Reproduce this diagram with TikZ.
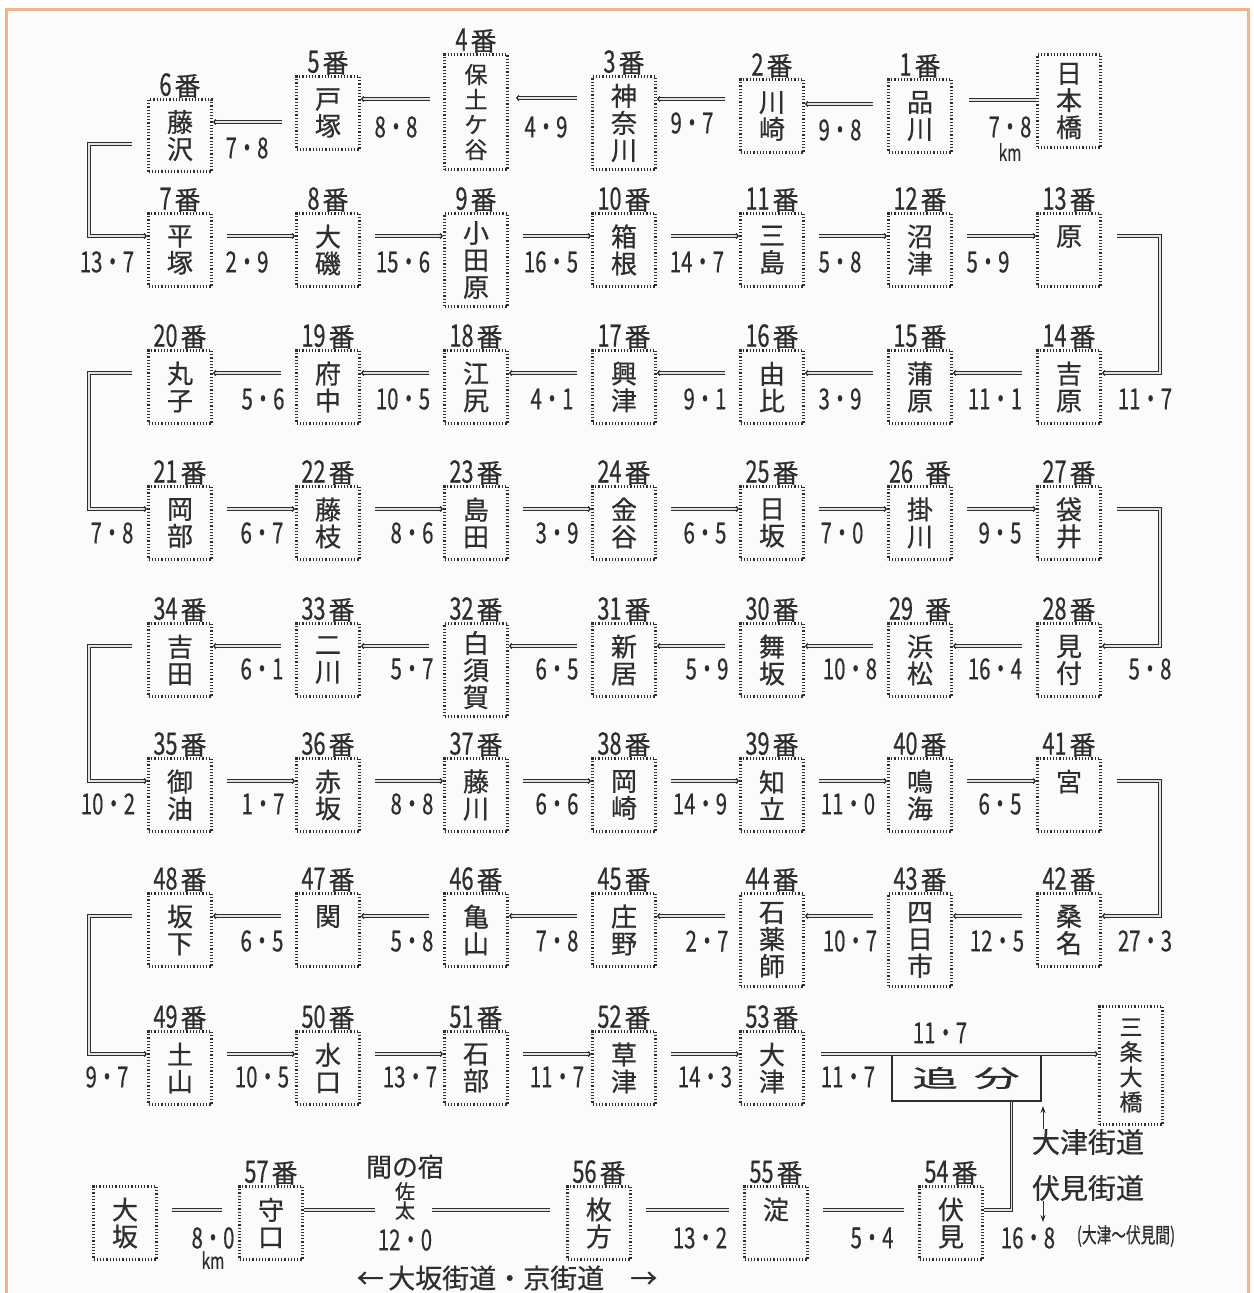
\documentclass[tikz,border=0pt]{standalone}
\usepackage{fontspec}
\usepackage{graphicx}
\usetikzlibrary{arrows.meta,positioning}
\newfontfamily\jp[FakeBold=0.6]{Noto Sans CJK JP}
\definecolor{frameorange}{RGB}{243,178,138}
\definecolor{paper}{RGB}{253,251,250}
\colorlet{ink}{black!82}
\newcommand{\narrow}[1]{\scalebox{0.7}[1]{#1}}
\newcommand{\stno}[1]{{\fontsize{31}{31}\selectfont\narrow{#1}}\hspace{3pt}番}
\newcommand{\stfont}{\jp\fontsize{26}{27}\selectfont}
\newcommand{\smallstfont}{\jp\fontsize{23}{25}\selectfont}
\tikzset{
  station/.style={draw=ink, line width=3pt, dash pattern=on 1.2pt off 2pt,
    minimum width=63pt, minimum height=73pt, inner sep=0pt, anchor=north,
    align=center, font=\stfont, text=ink, label distance=4pt},
  tall/.style={minimum height=93pt},
  stlabel/.style={font=\jp\fontsize{26}{26}\selectfont, text=ink, inner sep=0pt},
  dist/.style={font=\jp\fontsize{29}{29}\selectfont, text=ink, inner sep=0pt},
  note/.style={font=\jp\fontsize{27}{27}\selectfont, text=ink, inner sep=0pt},
  road/.style={draw=ink, line width=1.3pt, double=paper!80!gray, double distance=1.2pt},
  headed/.style={-{Straight Barb[length=2pt,width=5pt]}},
  pointer/.style={draw=ink, line width=0.9pt, -{Stealth[length=7pt,width=5pt]}}
}
\begin{document}
\begin{tikzpicture}[x=1pt, y=-1pt]
  \useasboundingbox (0,0) rectangle (1253,1293);
  \fill[white] (0,0) rectangle (1253,1293);
  % frame
  \draw[frameorange, line width=3pt, fill=paper] (6,9) rectangle (1248,1320);

  % row 1: Nihonbashi to Fujisawa
  \node[station, tall] (nihonbashi) at (1069,53) {日\\本\\橋};
  \node[station, label={[stlabel]above:\stno{1}}] (st1) at (920,78) {品\\川};
  \node[station, label={[stlabel]above:\stno{2}}] (st2) at (772,78) {川\\崎};
  \node[station, tall, label={[stlabel]above:\stno{3}}] (st3) at (624,75) {神\\奈\\川};
  \node[station, minimum height=115pt, font=\smallstfont, label={[stlabel]above:\stno{4}}] (st4) at (476,53) {保\\土\\ケ\\谷};
  \node[station, label={[stlabel]above:\stno{5}}] (st5) at (328,75) {戸\\塚};
  \node[station, minimum height=72pt, label={[stlabel]above:\stno{6}}] (st6) at (180,98) {藤\\沢};

  \draw[road] (nihonbashi.west |- 0,100) -- ([xshift=16pt]st1.east |- 0,100);
  \draw[road, headed] ([xshift=-14pt]st1.west |- 0,104) -- (st2.east |- 0,104);
  \draw[road, headed] ([xshift=-14pt]st2.west |- 0,99) -- (st3.east |- 0,99);
  \draw[road, headed] ([xshift=-14pt]st3.west |- 0,98) -- ([xshift=7pt]st4.east |- 0,98);
  \draw[road, headed] ([xshift=-13pt]st4.west |- 0,99) -- (st5.east |- 0,99);
  \draw[road, headed] ([xshift=-13pt]st5.west |- 0,122) -- (st6.east |- 0,122);

  \node[dist] (k1) at (1010,127) {\narrow{7・8}};
  \node[dist, font=\jp\fontsize{22}{22}\selectfont] (km1) at (1010,152) {\narrow{km}};
  \node[dist] (k2) at (840,130) {\narrow{9・8}};
  \node[dist] (k3) at (692,123) {\narrow{9・7}};
  \node[dist] (k4) at (546,127) {\narrow{4・9}};
  \node[dist] (k5) at (396,127) {\narrow{8・8}};
  \node[dist] (k6) at (247,148) {\narrow{7・8}};

  % row 2: Hiratsuka to Hara
  \node[station, label={[stlabel]above:\stno{7}}] (st7) at (180,212) {平\\塚};
  \node[station, label={[stlabel]above:\stno{8}}] (st8) at (328,212) {大\\磯};
  \node[station, tall, label={[stlabel]above:\stno{9}}] (st9) at (476,212) {小\\田\\原};
  \node[station, label={[stlabel]above:\stno{10}}] (st10) at (624,212) {箱\\根};
  \node[station, label={[stlabel]above:\stno{11}}] (st11) at (772,212) {三\\島};
  \node[station, label={[stlabel]above:\stno{12}}] (st12) at (920,212) {沼\\津};
  \node[station, label={[stlabel]above:\stno{13}}] (st13) at (1069,212) {原\\\phantom{原}};

  \draw[road, headed] ([xshift=14pt,yshift=-24pt]st7.north east) -- ([yshift=-24pt]st8.north west);
  \draw[road, headed] ([xshift=14pt,yshift=-24pt]st8.north east) -- ([yshift=-24pt]st9.north west);
  \draw[road, headed] ([xshift=14pt,yshift=-24pt]st9.north east) -- ([yshift=-24pt]st10.north west);
  \draw[road, headed] ([xshift=14pt,yshift=-24pt]st10.north east) -- ([yshift=-24pt]st11.north west);
  \draw[road, headed] ([xshift=14pt,yshift=-24pt]st11.north east) -- ([yshift=-24pt]st12.north west);
  \draw[road, headed] ([xshift=14pt,yshift=-24pt]st12.north east) -- ([yshift=-24pt]st13.north west);

  \node[dist] (k7) at (107,262) {\narrow{13・7}};
  \node[dist] (k8) at (247,262) {\narrow{2・9}};
  \node[dist] (k9) at (403,262) {\narrow{15・6}};
  \node[dist] (k10) at (551,262) {\narrow{16・5}};
  \node[dist] (k11) at (697,262) {\narrow{14・7}};
  \node[dist] (k12) at (840,262) {\narrow{5・8}};
  \node[dist] (k13) at (988,262) {\narrow{5・9}};

  % row 3: Yoshiwara to Mariko
  \node[station, label={[stlabel]above:\stno{14}}] (st14) at (1069,349) {吉\\原};
  \node[station, label={[stlabel]above:\stno{15}}] (st15) at (920,349) {蒲\\原};
  \node[station, label={[stlabel]above:\stno{16}}] (st16) at (772,349) {由\\比};
  \node[station, label={[stlabel]above:\stno{17}}] (st17) at (624,349) {興\\津};
  \node[station, label={[stlabel]above:\stno{18}}] (st18) at (476,349) {江\\尻};
  \node[station, label={[stlabel]above:\stno{19}}] (st19) at (328,349) {府\\中};
  \node[station, label={[stlabel]above:\stno{20}}] (st20) at (180,349) {丸\\子};

  \draw[road, headed] ([xshift=-14pt,yshift=-24pt]st14.north west) -- ([yshift=-24pt]st15.north east);
  \draw[road, headed] ([xshift=-14pt,yshift=-24pt]st15.north west) -- ([yshift=-24pt]st16.north east);
  \draw[road, headed] ([xshift=-14pt,yshift=-24pt]st16.north west) -- ([yshift=-24pt]st17.north east);
  \draw[road, headed] ([xshift=-14pt,yshift=-24pt]st17.north west) -- ([yshift=-24pt]st18.north east);
  \draw[road, headed] ([xshift=-14pt,yshift=-24pt]st18.north west) -- ([yshift=-24pt]st19.north east);
  \draw[road, headed] ([xshift=-14pt,yshift=-24pt]st19.north west) -- ([yshift=-24pt]st20.north east);

  \node[dist] (k14) at (1145,399) {\narrow{11・7}};
  \node[dist] (k15) at (995,399) {\narrow{11・1}};
  \node[dist] (k16) at (840,399) {\narrow{3・9}};
  \node[dist] (k17) at (705,399) {\narrow{9・1}};
  \node[dist] (k18) at (552,399) {\narrow{4・1}};
  \node[dist] (k19) at (403,399) {\narrow{10・5}};
  \node[dist] (k20) at (263,399) {\narrow{5・6}};

  % row 4: Okabe to Fukuroi
  \node[station, label={[stlabel]above:\stno{21}}] (st21) at (180,485) {岡\\部};
  \node[station, label={[stlabel]above:\stno{22}}] (st22) at (328,485) {藤\\枝};
  \node[station, label={[stlabel]above:\stno{23}}] (st23) at (476,485) {島\\田};
  \node[station, label={[stlabel]above:\stno{24}}] (st24) at (624,485) {金\\谷};
  \node[station, label={[stlabel]above:\stno{25}}] (st25) at (772,485) {日\\坂};
  \node[station, label={[stlabel]above:{{\fontsize{31}{31}\selectfont\narrow{26}}\hspace{12pt}番}}] (st26) at (920,485) {掛\\川};
  \node[station, label={[stlabel]above:\stno{27}}] (st27) at (1069,485) {袋\\井};

  \draw[road, headed] ([xshift=14pt,yshift=-24pt]st21.north east) -- ([yshift=-24pt]st22.north west);
  \draw[road, headed] ([xshift=14pt,yshift=-24pt]st22.north east) -- ([yshift=-24pt]st23.north west);
  \draw[road, headed] ([xshift=14pt,yshift=-24pt]st23.north east) -- ([yshift=-24pt]st24.north west);
  \draw[road, headed] ([xshift=14pt,yshift=-24pt]st24.north east) -- ([yshift=-24pt]st25.north west);
  \draw[road, headed] ([xshift=14pt,yshift=-24pt]st25.north east) -- ([yshift=-24pt]st26.north west);
  \draw[road, headed] ([xshift=14pt,yshift=-24pt]st26.north east) -- ([yshift=-24pt]st27.north west);

  \node[dist] (k21) at (112,533) {\narrow{7・8}};
  \node[dist] (k22) at (262,533) {\narrow{6・7}};
  \node[dist] (k23) at (412,533) {\narrow{8・6}};
  \node[dist] (k24) at (557,533) {\narrow{3・9}};
  \node[dist] (k25) at (705,533) {\narrow{6・5}};
  \node[dist] (k26) at (842,533) {\narrow{7・0}};
  \node[dist] (k27) at (1000,533) {\narrow{9・5}};

  % row 5: Mitsuke to Yoshida
  \node[station, label={[stlabel]above:\stno{28}}] (st28) at (1069,622) {見\\付};
  \node[station, label={[stlabel]above:{{\fontsize{31}{31}\selectfont\narrow{29}}\hspace{12pt}番}}] (st29) at (920,622) {浜\\松};
  \node[station, label={[stlabel]above:\stno{30}}] (st30) at (772,622) {舞\\坂};
  \node[station, label={[stlabel]above:\stno{31}}] (st31) at (624,622) {新\\居};
  \node[station, tall, label={[stlabel]above:\stno{32}}] (st32) at (476,622) {白\\須\\賀};
  \node[station, label={[stlabel]above:\stno{33}}] (st33) at (328,622) {二\\川};
  \node[station, label={[stlabel]above:\stno{34}}] (st34) at (180,622) {吉\\田};

  \draw[road, headed] ([xshift=-14pt,yshift=-24pt]st28.north west) -- ([yshift=-24pt]st29.north east);
  \draw[road, headed] ([xshift=-14pt,yshift=-24pt]st29.north west) -- ([yshift=-24pt]st30.north east);
  \draw[road, headed] ([xshift=-14pt,yshift=-24pt]st30.north west) -- ([yshift=-24pt]st31.north east);
  \draw[road, headed] ([xshift=-14pt,yshift=-24pt]st31.north west) -- ([yshift=-24pt]st32.north east);
  \draw[road, headed] ([xshift=-14pt,yshift=-24pt]st32.north west) -- ([yshift=-24pt]st33.north east);
  \draw[road, headed] ([xshift=-14pt,yshift=-24pt]st33.north west) -- ([yshift=-24pt]st34.north east);

  \node[dist] (k28) at (1150,669) {\narrow{5・8}};
  \node[dist] (k29) at (995,669) {\narrow{16・4}};
  \node[dist] (k30) at (850,669) {\narrow{10・8}};
  \node[dist] (k31) at (707,669) {\narrow{5・9}};
  \node[dist] (k32) at (557,669) {\narrow{6・5}};
  \node[dist] (k33) at (412,669) {\narrow{5・7}};
  \node[dist] (k34) at (262,669) {\narrow{6・1}};

  % row 6: Goyu to Miya
  \node[station, label={[stlabel]above:\stno{35}}] (st35) at (180,757) {御\\油};
  \node[station, label={[stlabel]above:\stno{36}}] (st36) at (328,757) {赤\\坂};
  \node[station, label={[stlabel]above:\stno{37}}] (st37) at (476,757) {藤\\川};
  \node[station, label={[stlabel]above:\stno{38}}] (st38) at (624,757) {岡\\崎};
  \node[station, label={[stlabel]above:\stno{39}}] (st39) at (772,757) {知\\立};
  \node[station, label={[stlabel]above:\stno{40}}] (st40) at (920,757) {鳴\\海};
  \node[station, label={[stlabel]above:\stno{41}}] (st41) at (1069,757) {宮\\\phantom{宮}};

  \draw[road, headed] ([xshift=14pt,yshift=-24pt]st35.north east) -- ([yshift=-24pt]st36.north west);
  \draw[road, headed] ([xshift=14pt,yshift=-24pt]st36.north east) -- ([yshift=-24pt]st37.north west);
  \draw[road, headed] ([xshift=14pt,yshift=-24pt]st37.north east) -- ([yshift=-24pt]st38.north west);
  \draw[road, headed] ([xshift=14pt,yshift=-24pt]st38.north east) -- ([yshift=-24pt]st39.north west);
  \draw[road, headed] ([xshift=14pt,yshift=-24pt]st39.north east) -- ([yshift=-24pt]st40.north west);
  \draw[road, headed] ([xshift=14pt,yshift=-24pt]st40.north east) -- ([yshift=-24pt]st41.north west);

  \node[dist] (k35) at (108,804) {\narrow{10・2}};
  \node[dist] (k36) at (263,804) {\narrow{1・7}};
  \node[dist] (k37) at (412,804) {\narrow{8・8}};
  \node[dist] (k38) at (557,804) {\narrow{6・6}};
  \node[dist] (k39) at (700,804) {\narrow{14・9}};
  \node[dist] (k40) at (848,804) {\narrow{11・0}};
  \node[dist] (k41) at (1000,804) {\narrow{6・5}};

  % row 7: Kuwana to Sakashita
  \node[station, label={[stlabel]above:\stno{42}}] (st42) at (1069,892) {桑\\名};
  \node[station, tall, label={[stlabel]above:\stno{43}}] (st43) at (920,892) {四\\日\\市};
  \node[station, tall, label={[stlabel]above:\stno{44}}] (st44) at (772,892) {石\\薬\\師};
  \node[station, label={[stlabel]above:\stno{45}}] (st45) at (624,892) {庄\\野};
  \node[station, label={[stlabel]above:\stno{46}}] (st46) at (476,892) {亀\\山};
  \node[station, label={[stlabel]above:\stno{47}}] (st47) at (328,892) {関\\\phantom{関}};
  \node[station, label={[stlabel]above:\stno{48}}] (st48) at (180,892) {坂\\下};

  \draw[road, headed] ([xshift=-14pt,yshift=-24pt]st42.north west) -- ([yshift=-24pt]st43.north east);
  \draw[road, headed] ([xshift=-14pt,yshift=-24pt]st43.north west) -- ([yshift=-24pt]st44.north east);
  \draw[road, headed] ([xshift=-14pt,yshift=-24pt]st44.north west) -- ([yshift=-24pt]st45.north east);
  \draw[road, headed] ([xshift=-14pt,yshift=-24pt]st45.north west) -- ([yshift=-24pt]st46.north east);
  \draw[road, headed] ([xshift=-14pt,yshift=-24pt]st46.north west) -- ([yshift=-24pt]st47.north east);
  \draw[road, headed] ([xshift=-14pt,yshift=-24pt]st47.north west) -- ([yshift=-24pt]st48.north east);

  \node[dist] (k42) at (1145,941) {\narrow{27・3}};
  \node[dist] (k43) at (997,941) {\narrow{12・5}};
  \node[dist] (k44) at (850,941) {\narrow{10・7}};
  \node[dist] (k45) at (707,941) {\narrow{2・7}};
  \node[dist] (k46) at (557,941) {\narrow{7・8}};
  \node[dist] (k47) at (412,941) {\narrow{5・8}};
  \node[dist] (k48) at (262,941) {\narrow{6・5}};

  % row 8: Tsuchiyama to Otsu, Oiwake, Sanjo Ohashi
  \node[station, label={[stlabel]above:\stno{49}}] (st49) at (180,1030) {土\\山};
  \node[station, label={[stlabel]above:\stno{50}}] (st50) at (328,1030) {水\\口};
  \node[station, label={[stlabel]above:\stno{51}}] (st51) at (476,1030) {石\\部};
  \node[station, label={[stlabel]above:\stno{52}}] (st52) at (624,1030) {草\\津};
  \node[station, label={[stlabel]above:\stno{53}}] (st53) at (772,1030) {大\\津};
  \node[station, minimum height=118pt, font=\smallstfont] (sanjo) at (1131,1005) {三\\条\\大\\橋};
  \node[draw=ink, line width=2pt, minimum width=149pt, minimum height=46pt, anchor=north,
    font=\jp\fontsize{24}{24}\selectfont, text=ink] (oiwake) at (966,1054)
    {\scalebox{1.9}[1]{追}\hspace{16pt}\scalebox{1.9}[1]{分}};

  \draw[road, headed] ([xshift=14pt,yshift=-24pt]st49.north east) -- ([yshift=-24pt]st50.north west);
  \draw[road, headed] ([xshift=14pt,yshift=-24pt]st50.north east) -- ([yshift=-24pt]st51.north west);
  \draw[road, headed] ([xshift=14pt,yshift=-24pt]st51.north east) -- ([yshift=-24pt]st52.north west);
  \draw[road, headed] ([xshift=14pt,yshift=-24pt]st52.north east) -- ([yshift=-24pt]st53.north west);
  \draw[road, headed] ([xshift=16pt,yshift=-24pt]st53.north east) -- ([yshift=-49pt]sanjo.north west);

  \node[dist] (k49) at (107,1077) {\narrow{9・7}};
  \node[dist] (k50) at (262,1077) {\narrow{10・5}};
  \node[dist] (k51) at (410,1077) {\narrow{13・7}};
  \node[dist] (k52) at (557,1077) {\narrow{11・7}};
  \node[dist] (k53) at (705,1077) {\narrow{14・3}};
  \node[dist] (koiwake) at (848,1077) {\narrow{11・7}};
  \node[dist] (ksanjo) at (940,1033) {\narrow{11・7}};

  % Otsu kaido / Fushimi kaido
  \node[note, font=\jp\fontsize{28}{28}\selectfont] (otsukaido) at (1088,1142) {大津街道};
  \node[note, font=\jp\fontsize{28}{28}\selectfont] (fushimikaido) at (1088,1188) {伏見街道};
  \coordinate (otsutip) at (1043,1106);
  \coordinate (fushimitip) at (1043,1222);
  \draw[pointer] ([xshift=-45pt]otsukaido.north) -- (otsutip);
  \draw[pointer] ([xshift=-45pt]fushimikaido.south) -- (fushimitip);

  % row 9: Fushimi to Osaka
  \node[station, label={[stlabel]above:\stno{54}}] (st54) at (951,1185) {伏\\見};
  \node[station, label={[stlabel]above:\stno{55}}] (st55) at (776,1185) {淀\\\phantom{淀}};
  \node[station, label={[stlabel]above:\stno{56}}] (st56) at (599,1185) {枚\\方};
  \node[note, font=\jp\fontsize{20}{18}\selectfont, align=center,
    label={[stlabel, yshift=3pt]above:間の宿}] (sata) at (405,1201) {佐\\太};
  \node[station, label={[stlabel]above:\stno{57}}] (st57) at (271,1185) {守\\口};
  \node[station] (osaka) at (125,1185) {大\\坂};

  \draw[road] ([xshift=-14pt,yshift=-25pt]st54.north west) -- ([xshift=14pt,yshift=-25pt]st55.north east);
  \draw[road] ([xshift=-14pt,yshift=-25pt]st55.north west) -- ([xshift=14pt,yshift=-25pt]st56.north east);
  \draw[road] ([xshift=-16pt,yshift=-25pt]st56.north west) -- ([xshift=17pt]sata.east |- 0,1210);
  \draw[road] ([xshift=-20pt]sata.west |- 0,1210) -- ([yshift=-25pt]st57.north east);
  \draw[road] ([xshift=-16pt,yshift=-25pt]st57.north west) -- ([xshift=14pt,yshift=-25pt]osaka.north east);

  \node[dist] (k54) at (1028,1238) {\narrow{16・8}};
  \node[dist, font=\jp\fontsize{21}{21}\selectfont] (kspan) at (1126,1236) {\narrow{(大津〜伏見間)}};
  \node[dist] (k55) at (872,1238) {\narrow{5・4}};
  \node[dist] (k56) at (700,1238) {\narrow{13・2}};
  \node[dist] (ksata) at (405,1240) {\narrow{12・0}};
  \node[dist] (kosaka) at (213,1238) {\narrow{8・0}};
  \node[dist, font=\jp\fontsize{22}{22}\selectfont] (kmosaka) at (213,1260) {\narrow{km}};

  % turns between rows
  \draw[road, headed] ([xshift=-15pt]st6.west |- 0,144) -- ++(-43,0) |- ([yshift=-24pt]st7.north west);
  \draw[road, headed] ([xshift=15pt,yshift=-24pt]st13.north east) -- ++(43,0) |- ([yshift=-24pt]st14.north east);
  \draw[road, headed] ([xshift=-15pt,yshift=-24pt]st20.north west) -- ++(-43,0) |- ([yshift=-24pt]st21.north west);
  \draw[road, headed] ([xshift=15pt,yshift=-24pt]st27.north east) -- ++(43,0) |- ([yshift=-24pt]st28.north east);
  \draw[road, headed] ([xshift=-15pt,yshift=-24pt]st34.north west) -- ++(-43,0) |- ([yshift=-24pt]st35.north west);
  \draw[road, headed] ([xshift=15pt,yshift=-24pt]st41.north east) -- ++(43,0) |- ([yshift=-24pt]st42.north east);
  \draw[road, headed] ([xshift=-15pt,yshift=-24pt]st48.north west) -- ++(-43,0) |- ([yshift=-24pt]st49.north west);
  \draw[road] ([xshift=-30pt]oiwake.south east) |- ([yshift=-25pt]st54.north east);

  % caption
  \node[note, font=\jp\fontsize{27}{27}\selectfont] (kaido) at (507,1278) {←\,大坂街道・京街道\hspace{26pt}→};
\end{tikzpicture}
\end{document}
